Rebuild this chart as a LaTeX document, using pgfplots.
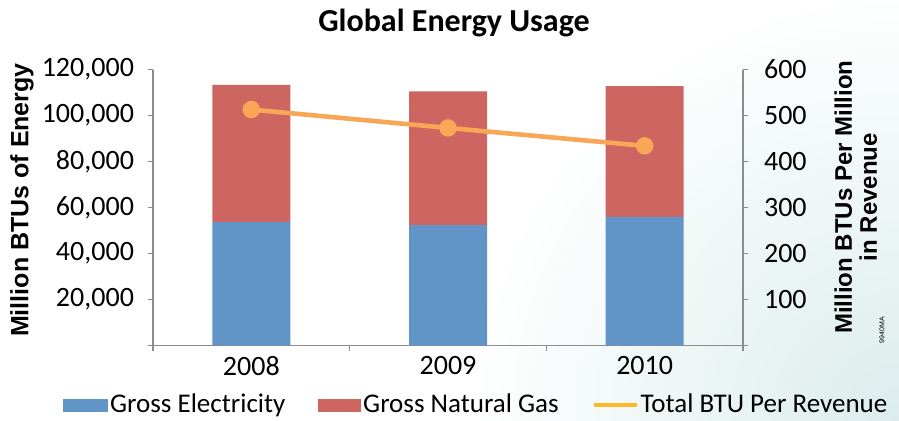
\documentclass[border=0pt]{standalone}
\usepackage{pgfplots}
\pgfplotsset{compat=1.18}
\usepackage{fontspec}
\setmainfont{Carlito}
\newfontfamily\arialfont{Liberation Sans}
\definecolor{eblue}{HTML}{6195C8}
\definecolor{gred}{HTML}{CD6660}
\definecolor{lorange}{HTML}{F9A656}
\definecolor{legorange}{HTML}{FDB927}
\definecolor{axgray}{HTML}{8C8C8C}
\definecolor{bgteal}{HTML}{DCECEC}
\begin{document}
\begin{tikzpicture}[x=0.5pt,y=0.5pt]
\useasboundingbox (0,0) rectangle (899,420);
\begin{scope}
\clip (0,0) rectangle (899,420);
\shade[inner color=bgteal, outer color=white] (899,0) circle (430);
\end{scope}
\node[font=\bfseries\fontsize{16}{19}\selectfont] at (454,397) {Global Energy Usage};
\begin{axis}[
 at={(76.5pt,37.25pt)}, anchor=south west,
 scale only axis, width=295pt, height=138pt,
 xmin=-0.5, xmax=2.5, ymin=0, ymax=120000,
 axis x line*=bottom, axis y line*=left,
 axis line style={axgray, line width=0.8pt},
 tick style={axgray, line width=0.8pt},
 tick align=outside, major tick length=2.5pt,
 xtick={-0.5,0.5,1.5,2.5}, xticklabels={,,,},
 extra x ticks={0,1,2}, extra x tick labels={2008,2009,2010},
 extra x tick style={major tick length=0pt},
 ytick={0,20000,...,120000},
 yticklabels={,{20,000},{40,000},{60,000},{80,000},{100,000},{120,000}},
 ticklabel style={font=\fontsize{14}{16}\selectfont},
 yticklabel style={xshift=-3.5pt},
 xticklabel style={yshift=-2pt},
 ylabel={Million BTUs of Energy},
 ylabel style={font=\arialfont\bfseries\fontsize{12.5}{14}\selectfont, at={(rel axis cs:-0.222,0.527)}, anchor=center},
 ybar stacked, bar width=39pt,
 scaled y ticks=false,
 clip=false,
]
\addplot[fill=eblue, draw=none] coordinates {(0,53600) (1,52300) (2,55900)};
\addplot[fill=gred, draw=none] coordinates {(0,59700) (1,58200) (2,56900)};
\end{axis}
\begin{axis}[
 at={(76.5pt,37.25pt)}, anchor=south west,
 scale only axis, width=295pt, height=138pt,
 xmin=-0.5, xmax=2.5, ymin=0, ymax=600,
 axis x line=none, axis y line*=right,
 axis line style={axgray, line width=0.8pt},
 tick style={axgray, line width=0.8pt},
 tick align=outside, major tick length=2.5pt,
 ytick={0,100,...,600},
 yticklabels={,100,200,300,400,500,600},
 ticklabel style={font=\fontsize{14}{16}\selectfont},
 yticklabel style={xshift=4.5pt},
 ylabel={Million BTUs Per Million\\in Revenue},
 ylabel style={font=\arialfont\bfseries\fontsize{12}{12.5}\selectfont, align=center, at={(rel axis cs:1.191,0.538)}, anchor=center, rotate=0},
 clip=false,
 legend columns=3,
 legend style={at={(0.548,-0.2156)}, anchor=center, draw=none, fill=none,
   font=\fontsize{13.5}{15}\selectfont, inner sep=0pt, nodes={inner sep=1pt},
   /tikz/every odd column/.append style={column sep=0pt},
   /tikz/every even column/.append style={column sep=15.5pt}},
]
\addplot[lorange, line width=2.3pt, mark=*, mark size=3.2pt, mark options={fill=lorange, draw=lorange}, forget plot] coordinates {(0,513) (1,473) (2,434)};
\addlegendimage{legend image code/.code={\fill[eblue] (0pt,-3pt) rectangle (22pt,3pt);}}
\addlegendentry{Gross Electricity}
\addlegendimage{legend image code/.code={\fill[gred] (0pt,-3pt) rectangle (21pt,3pt);}}
\addlegendentry{Gross Natural Gas}
\addlegendimage{legend image code/.code={\draw[legorange, line width=2pt] (0pt,0pt) -- (21.5pt,0pt);}}
\addlegendentry{Total BTU Per Revenue}
\node[rotate=90, font=\arialfont\fontsize{3.5}{4}\selectfont] at (rel axis cs:1.2356,0.056) {9940MA};
\end{axis}
\end{tikzpicture}
\end{document}
